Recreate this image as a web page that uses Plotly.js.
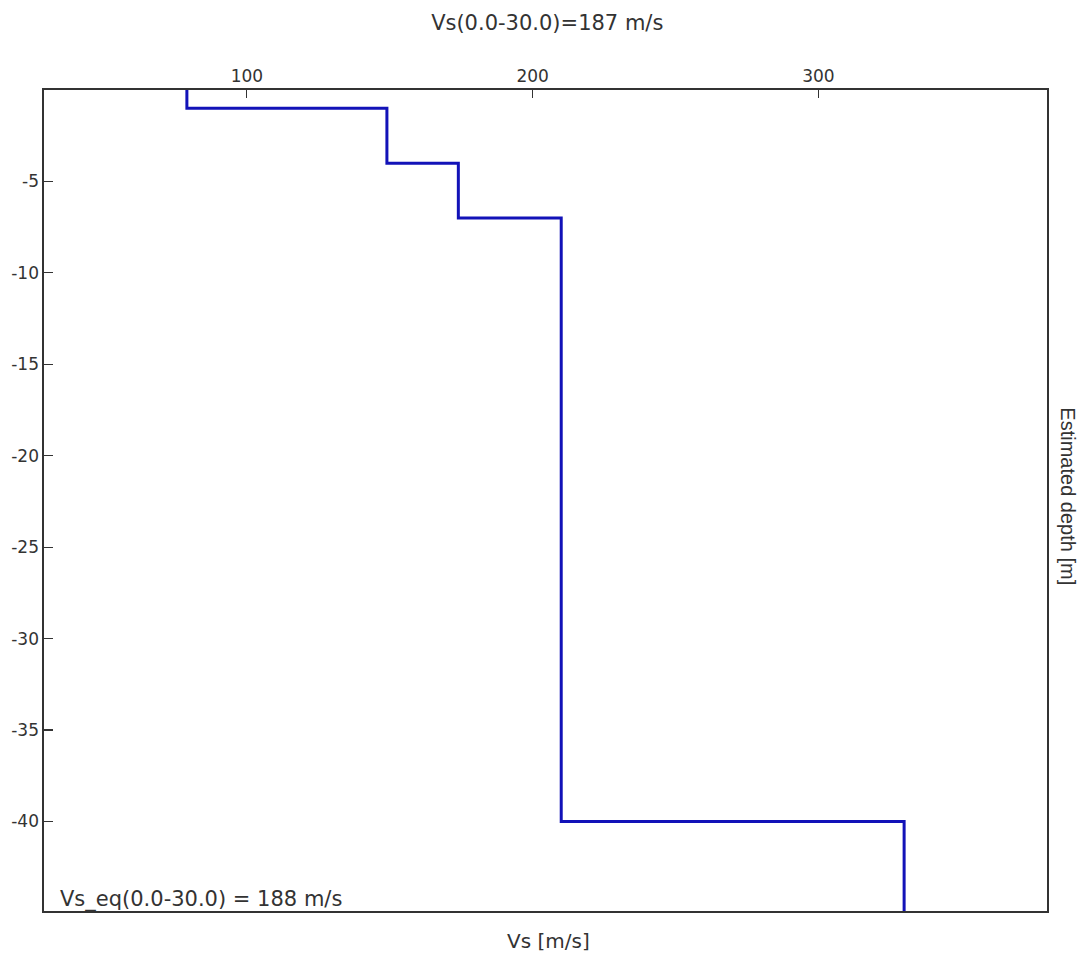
<!DOCTYPE html>
<html>
<head>
<meta charset="utf-8">
<script src="https://cdn.plot.ly/plotly-3.0.1.min.js"></script>
<style>html,body{margin:0;padding:0;background:#fff;}#chart{width:1088px;height:956px;}</style>
</head>
<body>
<div id="chart"></div>
<script>
// Layered Vs profile: velocity of each layer and its top/bottom depth (m)
const layerVs = [79, 149, 174, 210, 330];
const layerTop = [0, -1, -4, -7, -40];
const layerBottom = [-1, -4, -7, -40, -44.9];
const xTickVals = [100, 200, 300];
const yTickVals = [-5, -10, -15, -20, -25, -30, -35, -40];
const titleText = 'Vs(0.0-30.0)=187 m/s';
const xLabel = 'Vs [m/s]';
const yLabel = 'Estimated depth [m]';
const eqText = 'Vs_eq(0.0-30.0) = 188 m/s';

const xs = [], ys = [];
for (let i = 0; i < layerVs.length; i++) {
  xs.push(layerVs[i], layerVs[i]);
  ys.push(layerTop[i], layerBottom[i]);
}

const fam = 'DejaVu Sans, Arial, sans-serif';
const tickFont = {family: fam, size: 17, color: '#333'};
const labFont = {family: fam, size: 20, color: '#333'};

Plotly.newPlot('chart', [{
  x: xs, y: ys, type: 'scatter', mode: 'lines',
  line: {color: '#1212b8', width: 3},
  hoverinfo: 'skip', showlegend: false
}], {
  width: 1088, height: 956,
  margin: {l: 44, r: 41, t: 90, b: 45, pad: 0},
  paper_bgcolor: '#fff', plot_bgcolor: '#fff',
  font: tickFont,
  title: {text: titleText, x: 0.503, xanchor: 'center', y: 0.976, yanchor: 'middle', font: {family: fam, size: 21, color: '#333'}},
  xaxis: {
    range: [29, 380], side: 'top', tickvals: xTickVals, ticktext: xTickVals.map(String),
    ticks: 'inside', ticklen: 8, tickwidth: 1.2, tickcolor: '#333',
    showline: true, linecolor: '#333', linewidth: 1.6, mirror: true,
    showgrid: false, zeroline: false, tickfont: tickFont
  },
  yaxis: {
    range: [-44.9, 0], tickvals: yTickVals, ticktext: yTickVals.map(String),
    ticks: 'inside', ticklen: 9, tickwidth: 1.2, tickcolor: '#333',
    showline: true, linecolor: '#333', linewidth: 1.6, mirror: true,
    showgrid: false, zeroline: false, tickfont: tickFont
  },
  annotations: [
    {text: xLabel, xref: 'paper', yref: 'paper', x: 0.503, y: -0.037, xanchor: 'center', yanchor: 'middle', showarrow: false, font: labFont},
    {text: yLabel, xref: 'paper', yref: 'paper', x: 1.021, y: 0.505, xanchor: 'center', yanchor: 'middle', textangle: 90, showarrow: false, font: {family: 'Liberation Sans, Arial, sans-serif', size: 20, color: '#333'}},
    {text: eqText, xref: 'paper', yref: 'paper', x: 0.014, y: -0.004, xanchor: 'left', yanchor: 'bottom', showarrow: false, font: {family: fam, size: 21, color: '#333'}}
  ]
}, {displayModeBar: false, staticPlot: true});
</script>
</body>
</html>
